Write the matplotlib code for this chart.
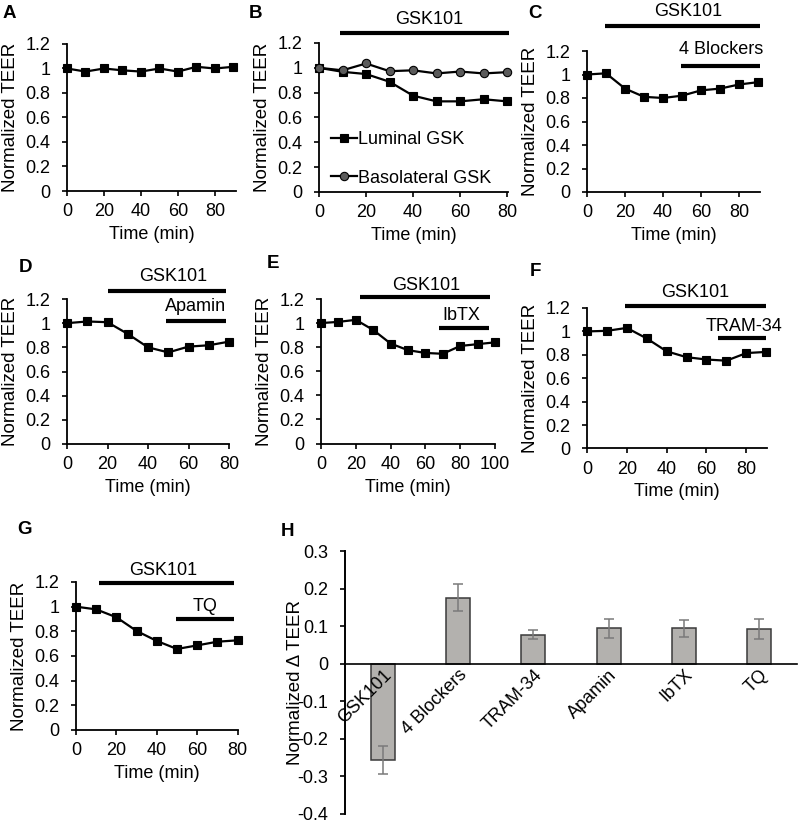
import matplotlib
matplotlib.use("Agg")
import matplotlib.pyplot as plt
import numpy as np

plt.rcParams['font.family'] = ['Liberation Sans', 'DejaVu Sans']
plt.rcParams['axes.unicode_minus'] = False
FS = 13
FSL = 13.5

# ---------------- data ----------------
A_time = [0, 10, 20, 30, 40, 50, 60, 70, 80, 90]
A_teer = [1.0, 0.975, 1.0, 0.985, 0.975, 1.0, 0.975, 1.014, 1.0, 1.014]

B_time = [0, 10, 20, 30, 40, 50, 60, 70, 80]
B_luminal = [1.0, 0.968, 0.95, 0.888, 0.776, 0.73, 0.73, 0.747, 0.73]
B_basolateral = [1.0, 0.98, 1.035, 0.973, 0.98, 0.955, 0.97, 0.955, 0.965]

C_time = [0, 10, 20, 30, 40, 50, 60, 70, 80, 90]
C_teer = [1.0, 1.01, 0.88, 0.81, 0.80, 0.82, 0.865, 0.88, 0.915, 0.935]

D_time = [0, 10, 20, 30, 40, 50, 60, 70, 80]
D_teer = [1.0, 1.014, 1.008, 0.911, 0.80, 0.758, 0.806, 0.817, 0.847]

E_time = [0, 10, 20, 30, 40, 50, 60, 70, 80, 90, 100]
E_teer = [1.0, 1.01, 1.027, 0.943, 0.83, 0.775, 0.752, 0.745, 0.81, 0.825, 0.84]

F_time = [0, 10, 20, 30, 40, 50, 60, 70, 80, 90]
F_teer = [1.0, 1.005, 1.03, 0.94, 0.83, 0.78, 0.76, 0.75, 0.815, 0.825]

G_time = [0, 10, 20, 30, 40, 50, 60, 70, 80]
G_teer = [1.0, 0.978, 0.914, 0.803, 0.722, 0.657, 0.686, 0.716, 0.727]

H_categories = ['GSK101', '4 Blockers', 'TRAM-34', 'Apamin', 'IbTX', 'TQ']
H_values = [-0.257, 0.175, 0.077, 0.094, 0.094, 0.092]
H_errors = [0.037, 0.036, 0.012, 0.026, 0.022, 0.027]

# treatment bars: (label, start, end, bar level, text x, text y)
B_treat = [('GSK101', 9, 81, 1.28, 47, 1.39)]
C_treat = [('GSK101', 9.3, 91, 1.414, 53, 1.54), ('4 Blockers', 49.4, 91, 1.076, 70.3, 1.21)]
D_treat = [('GSK101', 20, 78.4, 1.27, 52.4, 1.39), ('Apamin', 49, 78.4, 1.02, 63.5, 1.136)]
E_treat = [('GSK101', 22.5, 97, 1.217, 60.5, 1.31), ('IbTX', 67.8, 96.7, 0.962, 80.5, 1.064)]
F_treat = [('GSK101', 19, 90, 1.22, 54.5, 1.336), ('TRAM-34', 65.6, 90, 0.94, 78.8, 1.04)]
G_treat = [('GSK101', 11.2, 78.2, 1.19, 43.2, 1.295), ('TQ', 49.3, 78.2, 0.9, 63.9, 1.0)]

W, H = 800, 825
fig = plt.figure(figsize=(W / 100, H / 100), dpi=100)


def add_ax(l, t, r, b):
    return fig.add_axes([l / W, 1 - b / H, (r - l) / W, (b - t) / H])


def style(ax):
    for s in ['top', 'right']:
        ax.spines[s].set_visible(False)
    for s in ['left', 'bottom']:
        ax.spines[s].set_linewidth(1.3)
    ax.tick_params(axis='both', direction='out', length=3.8, width=1.2,
                   labelsize=FS)
    ax.tick_params(axis='y', pad=8)
    ax.tick_params(axis='x', pad=5)


def time_panel(rect, xlim, xticks, treats):
    l, t, r, b = rect
    ax = add_ax(l, t, r, b)
    w_px, h_px = r - l, b - t
    style(ax)
    ax.set_xlim(*xlim)
    ax.set_ylim(0, 1.2)
    ax.set_xticks(xticks)
    ax.set_yticks([0, 0.2, 0.4, 0.6, 0.8, 1.0, 1.2])
    ax.set_yticklabels(['0', '0.2', '0.4', '0.6', '0.8', '1', '1.2'])
    ax.set_ylabel('Normalized TEER', fontsize=FSL)
    ax.set_xlabel('Time (min)', fontsize=FS)
    ax.yaxis.set_label_coords(-48 / w_px, 0.5)
    ax.xaxis.set_label_coords(0.5, -35 / h_px)
    for lab, x0, x1, yb, tx, ty in treats:
        ax.plot([x0, x1], [yb, yb], color='black', lw=3, solid_capstyle='butt',
                clip_on=False)
        ax.text(tx, ty, lab, ha='center', va='center', fontsize=FS, clip_on=False)
    return ax


def series(ax, x, y, marker='s', face='black', label=None):
    ax.plot(x, y, color='black', lw=1.6, marker=marker, markersize=6,
            markerfacecolor=face, markeredgecolor='black', markeredgewidth=0.8,
            clip_on=False, label=label, zorder=3)


# A
axA = time_panel((67, 44, 236, 191), (0, 91.4), [0, 20, 40, 60, 80], [])
series(axA, A_time, A_teer)

# B
axB = time_panel((319, 43, 508, 192), (0, 80.4), [0, 20, 40, 60, 80], B_treat)
series(axB, B_time, B_luminal, label='Luminal GSK')
series(axB, B_time, B_basolateral, marker='o', face='#5a5a5a', label='Basolateral GSK')
axB.legend(loc='lower left', bbox_to_anchor=(0.065, 0.035), frameon=False,
           fontsize=FS, handlelength=1.4, handletextpad=0.1, labelspacing=1.2,
           borderpad=0, borderaxespad=0)

# C
axC = time_panel((587, 51, 760, 192), (0, 91), [0, 20, 40, 60, 80], C_treat)
series(axC, C_time, C_teer)

# D
axD = time_panel((67, 299, 229, 444), (0, 80), [0, 20, 40, 60, 80], D_treat)
series(axD, D_time, D_teer)

# E
axE = time_panel((321, 299, 495, 443.5), (0, 100), [0, 20, 40, 60, 80, 100], E_treat)
series(axE, E_time, E_teer)

# F
axF = time_panel((587, 308, 767, 448.5), (0, 90.4), [0, 20, 40, 60, 80], F_treat)
series(axF, F_time, F_teer)

# G
axG = time_panel((76, 582, 238, 730), (0, 80.2), [0, 20, 40, 60, 80], G_treat)
series(axG, G_time, G_teer)

# H
l, t, r, b = 345, 551, 797, 814
axH = add_ax(l, t, r, b)
axH.set_axisbelow(False)
for s in ['top', 'right']:
    axH.spines[s].set_visible(False)
axH.spines['left'].set_linewidth(1.4)
axH.spines['bottom'].set_linewidth(1.2)
axH.spines['bottom'].set_position(('data', 0))
xpos = np.arange(len(H_categories))
axH.bar(xpos, H_values, width=0.315, color='#b3b1ae', edgecolor='#3a3a3a',
        linewidth=1.1, zorder=2)
axH.errorbar(xpos, H_values, yerr=H_errors, fmt='none', ecolor='#7a7a7a',
             elinewidth=1.1, capsize=3.5, capthick=1.1, zorder=2.2)
axH.set_xlim(-0.5, 5.5)
axH.set_ylim(-0.4, 0.3)
axH.set_yticks([-0.4, -0.3, -0.2, -0.1, 0, 0.1, 0.2, 0.3])
axH.set_yticklabels(['-0.4', '-0.3', '-0.2', '-0.1', '0', '0.1', '0.2', '0.3'])
axH.tick_params(axis='y', direction='out', length=3.8, width=1.2, labelsize=FS, pad=8)
axH.set_xticks(xpos)
axH.set_xticklabels(H_categories, rotation=45, ha='right', rotation_mode='anchor')
axH.tick_params(axis='x', length=0, labelsize=FS, pad=2)
axH.set_ylabel('Normalized \u0394 TEER', fontsize=FSL)
axH.yaxis.set_label_coords(-41 / (r - l), 0.5)

# panel letters
for letter, x, y in [('A', 9, 14), ('B', 256, 14), ('C', 535, 14), ('D', 26, 267),
                     ('E', 273, 264), ('F', 535, 272), ('G', 24, 529), ('H', 287, 531)]:
    fig.text(x / W, 1 - y / H, letter, fontsize=13.5, fontweight='bold',
             ha='center', va='center')

fig.savefig('out.png', dpi=100)
